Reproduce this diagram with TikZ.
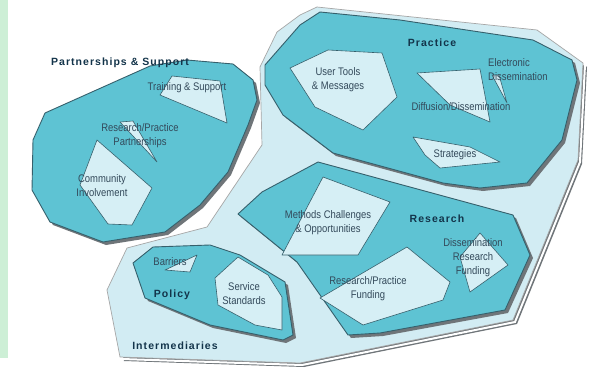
\documentclass[tikz,border=0pt]{standalone}
\usepackage{fontspec}
\setmainfont{Liberation Sans}
\newfontfamily\condfont[FakeStretch=0.86]{Liberation Sans}
\definecolor{blobc}{HTML}{5EC3D3}
\definecolor{innerc}{HTML}{D6EFF5}
\definecolor{interc}{HTML}{D2ECF3}
\definecolor{edgec}{HTML}{36606C}
\definecolor{shadc}{HTML}{6F7579}
\definecolor{txtc}{HTML}{33495A}
\definecolor{headc}{HTML}{13344A}
\definecolor{bandc}{HTML}{CDEFD6}
\tikzset{
  blob/.style={fill=blobc, draw=edgec, line width=0.9pt, line join=round},
  innerpoly/.style={fill=innerc, draw=edgec, line width=0.6pt, line join=round},
  interpoly/.style={fill=interc, draw=gray!70, line width=0.7pt, line join=round},
  shadowpoly/.style={fill=shadc},
  lbl/.style={font=\condfont\fontsize{11}{14}\selectfont, text=txtc, align=center, inner sep=0pt},
  head/.style={font=\fontsize{10.5}{12}\selectfont\bfseries\addfontfeature{LetterSpace=10}, text=headc, inner sep=0pt},
}
\def\interpath{(120,357) -- (107,290) -- (127,248) -- (207,227) -- (262,145) -- (260,67) -- (277,32) -- (300,15) -- (317,7) -- (537,30) -- (583,63) -- (578,160) -- (513,320) -- (300,363) -- cycle}
\def\partpath{(45,113) -- (33,140) -- (32,190) -- (50,222) -- (103,242) -- (165,232) -- (200,205) -- (228,172) -- (248,125) -- (257,100) -- (253,80) -- (233,64) -- (187,60) -- (150,66) -- cycle}
\def\practpath{(265,65) -- (300,25) -- (320,12) -- (400,20) -- (533,40) -- (572,60) -- (577,80) -- (562,140) -- (527,183) -- (480,188) -- (443,183) -- (333,153) -- (283,115) -- (265,85) -- cycle}
\def\respath{(238,214) -- (262,192) -- (318,162) -- (513,215) -- (530,255) -- (505,310) -- (380,333) -- (348,335) -- (297,262) -- cycle}
\def\polpath{(133,263) -- (153,247) -- (210,245) -- (240,255) -- (285,282) -- (293,335) -- (283,340) -- (210,325) -- (145,298) -- cycle}
\begin{document}
\begin{tikzpicture}[x=1pt,y=-1pt]
\useasboundingbox (0,0) rectangle (590,370);
\fill[white] (0,0) rectangle (590,370);
\fill[bandc] (0,0) rectangle (8,358);
% intermediaries
\fill[shadowpoly, shift={(4,4)}] \interpath;
\path[draw=white, line width=2pt, shift={(2,2)}] \interpath;
\path[interpoly] \interpath;
% partnerships
\fill[shadowpoly, shift={(3,3)}] \partpath;
\path[blob] \partpath;
\path[innerpoly] (172,76) -- (220,81) -- (227,123) -- (160,95) -- cycle;
\path[innerpoly] (120,122) -- (133,121) -- (157,162) -- cycle;
\path[innerpoly] (97,140) -- (152,188) -- (132,225) -- (108,224) -- (80,185) -- cycle;
% practice
\fill[shadowpoly, shift={(3,3)}] \practpath;
\path[blob] \practpath;
\path[innerpoly] (290,68) -- (328,50) -- (382,53) -- (397,97) -- (363,130) -- (315,107) -- cycle;
\path[innerpoly] (417,73) -- (480,69) -- (490,122) -- (450,105) -- cycle;
\path[innerpoly] (492,75) -- (499,75) -- (507,103) -- cycle;
\path[innerpoly] (413,137) -- (470,147) -- (500,162) -- (440,168) -- (425,155) -- cycle;
% research
\fill[shadowpoly, shift={(3,3)}] \respath;
\path[blob] \respath;
\path[innerpoly] (323,177) -- (390,202) -- (358,255) -- (282,255) -- cycle;
\path[innerpoly] (320,298) -- (407,247) -- (450,282) -- (443,300) -- (363,325) -- cycle;
\path[innerpoly] (480,233) -- (508,265) -- (470,292) -- (460,257) -- cycle;
% policy
\fill[shadowpoly, shift={(3,3)}] \polpath;
\path[blob] \polpath;
\path[innerpoly] (165,270) -- (197,255) -- (190,272) -- cycle;
\path[innerpoly] (215,278) -- (238,257) -- (268,275) -- (282,297) -- (282,330) -- (255,325) -- (218,305) -- cycle;
% labels
\node[head] (lpart) at (120,63) {Partnerships \& Support};
\node[lbl] (ltrain) at (187,88) {Training \& Support};
\node[lbl] (lrpp) at (140,136) {Research/Practice\\Partnerships};
\node[lbl] (lcomm) at (102,186) {Community\\Involvement};
\node[head] (lpract) at (432,43) {Practice};
\node[lbl] (luser) at (338,80) {User Tools\\\& Messages};
\node[lbl, align=left, anchor=west] (lelec) at (488,70) {Electronic\\Dissemination};
\node[lbl] (ldiff) at (461,107) {Diffusion/Dissemination};
\node[lbl] (lstrat) at (455,155) {Strategies};
\node[lbl] (lmeth) at (328,223) {Methods Challenges\\\& Opportunities};
\node[head] (lres) at (437,219) {Research};
\node[lbl] (ldrf) at (473,258) {Dissemination\\Research\\Funding};
\node[lbl] (lrpf) at (368,289) {Research/Practice\\Funding};
\node[lbl] (lbarr) at (170,262) {Barriers};
\node[head] (lpol) at (172,295) {Policy};
\node[lbl] (lserv) at (244,294) {Service\\Standards};
\node[head] (linter) at (175,346) {Intermediaries};
\end{tikzpicture}
\end{document}
